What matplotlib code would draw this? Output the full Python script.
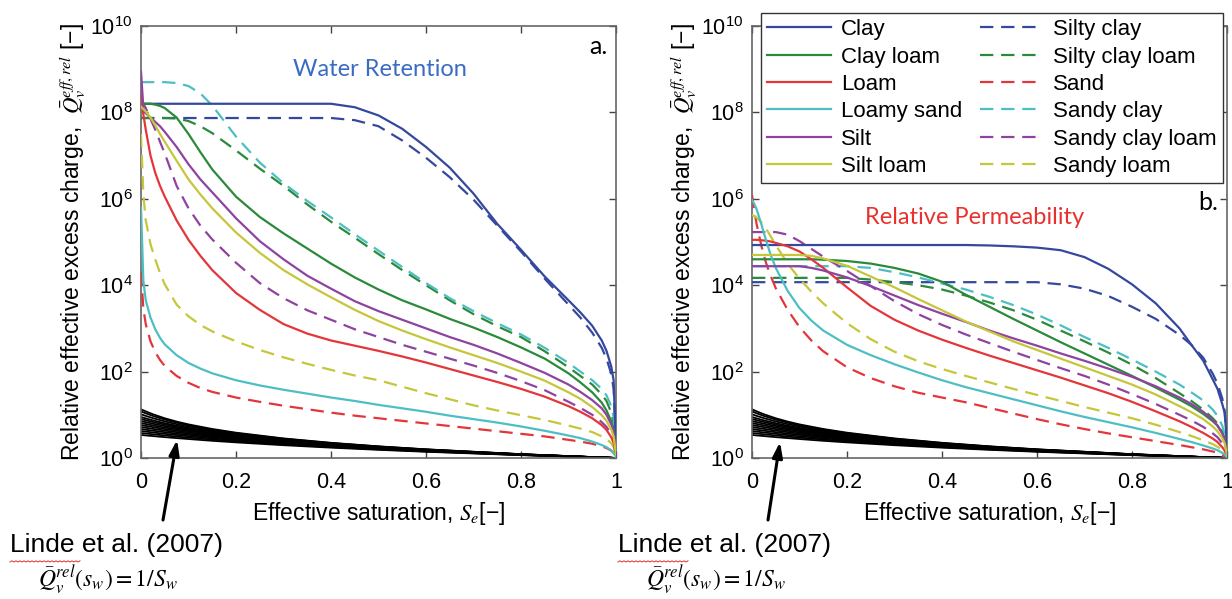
import numpy as np
import matplotlib
matplotlib.use("Agg")
import matplotlib.pyplot as plt
from matplotlib.lines import Line2D

plt.rcParams['font.family'] = ['Liberation Sans', 'DejaVu Sans']

# ---------------- data (log10 of Q) ----------------
se = [0, 0.005, 0.01, 0.02, 0.03, 0.04, 0.05, 0.075, 0.1, 0.125, 0.15, 0.2, 0.25,
      0.3, 0.35, 0.4, 0.45, 0.5, 0.55, 0.6, 0.65, 0.7, 0.75, 0.8, 0.85, 0.9,
      0.925, 0.95, 0.97, 0.98, 0.99, 0.995, 1.0]

solid_names = ["Clay", "Clay loam", "Loam", "Loamy sand", "Silt", "Silt loam"]
dashed_names = ["Silty clay", "Silty clay loam", "Sand", "Sandy clay",
                "Sandy clay loam", "Sandy loam"]

# Water retention (panel a), log10 values
wr_clay = [8.2, 8.2, 8.2, 8.2, 8.2, 8.2, 8.2, 8.2, 8.2, 8.2, 8.2, 8.2, 8.2, 8.2, 8.2, 8.2,
           8.12, 7.93, 7.62, 7.2, 6.72, 6.12, 5.42, 4.82, 4.2, 3.65, 3.37, 3.06, 2.72, 2.48, 2.12, 1.8, 0.2]
wr_clay_loam = [8.2, 8.2, 8.2, 8.2, 8.18, 8.15, 8.1, 7.88, 7.5, 7.08, 6.68, 6.05, 5.58, 5.2, 4.85, 4.5,
                4.18, 3.9, 3.65, 3.44, 3.22, 3.02, 2.8, 2.56, 2.3, 1.96, 1.75, 1.52, 1.28, 1.1, 0.85, 0.65, 0.15]
wr_loam = [8.4, 7.95, 7.6, 7.0, 6.6, 6.3, 6.05, 5.5, 5.05, 4.68, 4.35, 3.82, 3.43, 3.1, 2.88, 2.72,
           2.6, 2.48, 2.35, 2.21, 2.06, 1.91, 1.76, 1.6, 1.42, 1.2, 1.07, 0.92, 0.76, 0.65, 0.48, 0.35, 0.05]
wr_loamy_sand = [5.8, 4.1, 3.65, 3.25, 2.98, 2.78, 2.63, 2.38, 2.2, 2.07, 1.96, 1.8, 1.68, 1.58, 1.49, 1.4,
                 1.32, 1.23, 1.15, 1.07, 0.98, 0.9, 0.82, 0.73, 0.63, 0.52, 0.46, 0.38, 0.3, 0.25, 0.18, 0.12, 0.02]
wr_silt = [8.94, 8.1, 7.98, 7.88, 7.78, 7.68, 7.55, 7.2, 6.8, 6.45, 6.15, 5.55, 5.02, 4.6, 4.22, 3.92,
           3.63, 3.4, 3.2, 3.0, 2.8, 2.62, 2.42, 2.2, 1.97, 1.7, 1.53, 1.34, 1.15, 1.0, 0.78, 0.6, 0.1]
wr_silt_loam = [8.13, 8.08, 8.02, 7.88, 7.7, 7.5, 7.32, 6.88, 6.45, 6.1, 5.78, 5.22, 4.75, 4.35, 4.02, 3.72,
                3.43, 3.17, 2.95, 2.75, 2.56, 2.38, 2.2, 2.0, 1.79, 1.52, 1.37, 1.18, 0.99, 0.86, 0.66, 0.5, 0.08]
wr_silty_clay = [7.87, 7.87, 7.87, 7.87, 7.87, 7.87, 7.87, 7.87, 7.87, 7.87, 7.87, 7.87, 7.87, 7.87, 7.87, 7.87,
                 7.82, 7.68, 7.35, 6.95, 6.5, 5.98, 5.38, 4.78, 4.15, 3.55, 3.25, 2.9, 2.55, 2.3, 1.95, 1.6, 0.2]
wr_silty_clay_loam = [7.87, 7.87, 7.87, 7.87, 7.87, 7.87, 7.87, 7.86, 7.8, 7.68, 7.52, 7.12, 6.7, 6.3, 5.87, 5.47,
                      5.1, 4.72, 4.35, 4.0, 3.65, 3.33, 3.05, 2.8, 2.47, 2.1, 1.9, 1.7, 1.47, 1.32, 1.05, 0.8, 0.15]
wr_sand = [4.3, 3.45, 3.1, 2.7, 2.45, 2.27, 2.13, 1.9, 1.74, 1.62, 1.53, 1.4, 1.3, 1.21, 1.13, 1.05,
           0.98, 0.92, 0.86, 0.8, 0.74, 0.68, 0.62, 0.56, 0.5, 0.42, 0.38, 0.33, 0.27, 0.23, 0.17, 0.12, 0.02]
wr_sandy_clay = [8.7, 8.7, 8.7, 8.7, 8.7, 8.7, 8.7, 8.68, 8.61, 8.44, 8.16, 7.44, 6.84, 6.36, 5.95, 5.57,
                 5.18, 4.8, 4.42, 4.05, 3.7, 3.4, 3.12, 2.86, 2.55, 2.2, 2.0, 1.8, 1.6, 1.45, 1.2, 0.95, 0.15]
wr_sandy_clay_loam = [8.3, 8.2, 8.1, 7.85, 7.6, 7.32, 7.05, 6.3, 5.78, 5.38, 5.06, 4.52, 4.05, 3.7, 3.42, 3.2,
                      2.98, 2.8, 2.62, 2.46, 2.3, 2.14, 1.97, 1.78, 1.57, 1.3, 1.16, 1.0, 0.83, 0.72, 0.55, 0.42, 0.05]
wr_sandy_loam = [7.5, 6.1, 5.5, 4.95, 4.6, 4.28, 4.02, 3.55, 3.28, 3.08, 2.93, 2.7, 2.5, 2.33, 2.18, 2.04,
                 1.91, 1.8, 1.65, 1.5, 1.36, 1.22, 1.1, 0.99, 0.88, 0.75, 0.68, 0.6, 0.5, 0.44, 0.34, 0.25, 0.05]

# Relative permeability (panel b), log10 values
rp_clay = [4.93, 4.93, 4.93, 4.93, 4.93, 4.93, 4.93, 4.93, 4.93, 4.93, 4.93, 4.93, 4.93, 4.93, 4.93, 4.93,
           4.93, 4.92, 4.9, 4.87, 4.81, 4.65, 4.38, 4.02, 3.58, 3.0, 2.62, 2.25, 1.82, 1.6, 1.25, 1.05, 0.35]
rp_clay_loam = [4.6, 4.6, 4.6, 4.6, 4.6, 4.6, 4.6, 4.6, 4.6, 4.6, 4.59, 4.56, 4.5, 4.4, 4.27, 4.08,
                3.78, 3.5, 3.22, 2.95, 2.68, 2.42, 2.16, 1.9, 1.63, 1.35, 1.2, 1.02, 0.85, 0.75, 0.58, 0.45, 0.1]
rp_loam = [5.05, 5.05, 5.05, 5.04, 5.03, 5.01, 4.98, 4.9, 4.78, 4.6, 4.4, 3.95, 3.52, 3.2, 2.95, 2.74,
           2.55, 2.37, 2.2, 2.03, 1.86, 1.68, 1.5, 1.3, 1.08, 0.85, 0.72, 0.58, 0.45, 0.37, 0.25, 0.17, 0.04]
rp_loamy_sand = [5.97, 5.88, 5.75, 5.4, 5.02, 4.68, 4.4, 3.87, 3.47, 3.18, 2.95, 2.62, 2.38, 2.17, 1.98, 1.8,
                 1.64, 1.5, 1.36, 1.22, 1.08, 0.95, 0.83, 0.71, 0.58, 0.44, 0.37, 0.29, 0.22, 0.18, 0.12, 0.08, 0.02]
rp_silt = [4.44, 4.44, 4.44, 4.44, 4.44, 4.44, 4.44, 4.44, 4.44, 4.4, 4.34, 4.18, 3.98, 3.76, 3.54, 3.34,
           3.15, 2.95, 2.77, 2.6, 2.42, 2.25, 2.07, 1.88, 1.66, 1.4, 1.25, 1.07, 0.88, 0.75, 0.57, 0.42, 0.08]
rp_silt_loam = [4.7, 4.7, 4.7, 4.7, 4.7, 4.7, 4.7, 4.7, 4.7, 4.68, 4.62, 4.45, 4.2, 3.95, 3.68, 3.42,
                3.16, 2.93, 2.7, 2.5, 2.3, 2.1, 1.9, 1.7, 1.47, 1.2, 1.06, 0.9, 0.73, 0.62, 0.46, 0.34, 0.07]
rp_silty_clay = [4.07, 4.07, 4.07, 4.07, 4.07, 4.07, 4.07, 4.07, 4.07, 4.07, 4.07, 4.07, 4.07, 4.07, 4.07, 4.07,
                 4.07, 4.07, 4.07, 4.07, 4.02, 3.92, 3.75, 3.5, 3.22, 2.85, 2.62, 2.32, 1.95, 1.72, 1.38, 1.1, 0.35]
rp_silty_clay_loam = [4.17, 4.17, 4.17, 4.17, 4.17, 4.17, 4.17, 4.17, 4.17, 4.17, 4.17, 4.17, 4.13, 4.07, 4.0, 3.9,
                      3.76, 3.6, 3.42, 3.2, 2.95, 2.7, 2.44, 2.16, 1.85, 1.5, 1.32, 1.12, 0.92, 0.8, 0.6, 0.45, 0.1]
rp_sand = [6.09, 5.7, 5.4, 4.9, 4.5, 4.2, 3.93, 3.43, 3.03, 2.72, 2.47, 2.1, 1.85, 1.66, 1.51, 1.4,
           1.29, 1.16, 1.03, 0.9, 0.78, 0.67, 0.57, 0.48, 0.39, 0.3, 0.25, 0.2, 0.15, 0.12, 0.08, 0.05, 0.01]
rp_sandy_clay = [4.44, 4.44, 4.44, 4.44, 4.44, 4.44, 4.44, 4.44, 4.44, 4.44, 4.44, 4.44, 4.4, 4.3, 4.18, 4.04,
                 3.9, 3.73, 3.54, 3.32, 3.07, 2.8, 2.55, 2.28, 2.0, 1.7, 1.52, 1.33, 1.12, 0.98, 0.75, 0.55, 0.1]
rp_sandy_clay_loam = [5.23, 5.23, 5.23, 5.23, 5.23, 5.23, 5.23, 5.17, 5.02, 4.84, 4.66, 4.33, 3.98, 3.63, 3.33, 3.08,
                      2.86, 2.66, 2.46, 2.27, 2.08, 1.9, 1.7, 1.48, 1.25, 1.0, 0.87, 0.72, 0.57, 0.48, 0.34, 0.24, 0.05]
rp_sandy_loam = [5.63, 5.6, 5.56, 5.45, 5.3, 5.12, 4.93, 4.5, 4.15, 3.85, 3.58, 3.12, 2.75, 2.46, 2.24, 2.06,
                 1.9, 1.75, 1.6, 1.46, 1.32, 1.18, 1.05, 0.92, 0.77, 0.6, 0.51, 0.41, 0.32, 0.26, 0.18, 0.12, 0.03]

# Linde et al. (2007) curves, 1/Sw
linde_se = [0, 0.01, 0.025, 0.05, 0.075, 0.1, 0.15, 0.2, 0.3, 0.4, 0.5, 0.6, 0.8, 1.0]
linde_values = [
    [13.4, 12.01, 10.3, 8.31, 6.97, 6.00, 4.70, 3.86, 2.84, 2.25, 1.862, 1.590, 1.227, 1.0],
    [12.0, 10.81, 9.41, 7.74, 6.57, 5.71, 4.53, 3.75, 2.79, 2.22, 1.846, 1.579, 1.224, 1.0],
    [10.3, 9.42, 8.36, 7.03, 6.07, 5.34, 4.30, 3.60, 2.72, 2.18, 1.823, 1.565, 1.220, 1.0],
    [8.9, 8.25, 7.43, 6.38, 5.59, 4.97, 4.07, 3.45, 2.64, 2.14, 1.798, 1.550, 1.216, 1.0],
    [8.0, 7.48, 6.81, 5.93, 5.25, 4.71, 3.90, 3.33, 2.58, 2.105, 1.778, 1.538, 1.212, 1.0],
    [7.18, 6.76, 6.22, 5.49, 4.91, 4.44, 3.73, 3.21, 2.52, 2.07, 1.755, 1.525, 1.208, 1.0],
    [6.46, 6.12, 5.68, 5.07, 4.58, 4.18, 3.55, 3.09, 2.45, 2.03, 1.732, 1.511, 1.203, 1.0],
    [5.81, 5.54, 5.19, 4.68, 4.27, 3.92, 3.37, 2.96, 2.38, 1.987, 1.706, 1.495, 1.198, 1.0],
    [5.22, 5.01, 4.72, 4.31, 3.97, 3.67, 3.20, 2.83, 2.30, 1.942, 1.678, 1.478, 1.193, 1.0],
    [4.69, 4.52, 4.29, 3.96, 3.67, 3.43, 3.02, 2.70, 2.23, 1.894, 1.649, 1.459, 1.187, 1.0],
    [4.22, 4.09, 3.90, 3.63, 3.40, 3.19, 2.85, 2.57, 2.15, 1.844, 1.617, 1.439, 1.180, 1.0],
    [3.79, 3.69, 3.54, 3.33, 3.13, 2.96, 2.67, 2.43, 2.06, 1.791, 1.582, 1.417, 1.173, 1.0],
    [3.41, 3.33, 3.22, 3.04, 2.89, 2.75, 2.50, 2.30, 1.979, 1.736, 1.546, 1.394, 1.165, 1.0],
]

x_ticks = [0, 0.2, 0.4, 0.6, 0.8, 1]
x_tick_labels = ["0", "0.2", "0.4", "0.6", "0.8", "1"]
y_ticks = [1e0, 1e2, 1e4, 1e6, 1e8, 1e10]

colors = ["#35489e", "#2a8a3a", "#e4363a", "#4dbfc4", "#8f43a0", "#c6c63a"]

wr_solid = [wr_clay, wr_clay_loam, wr_loam, wr_loamy_sand, wr_silt, wr_silt_loam]
wr_dashed = [wr_silty_clay, wr_silty_clay_loam, wr_sand, wr_sandy_clay, wr_sandy_clay_loam, wr_sandy_loam]
rp_solid = [rp_clay, rp_clay_loam, rp_loam, rp_loamy_sand, rp_silt, rp_silt_loam]
rp_dashed = [rp_silty_clay, rp_silty_clay_loam, rp_sand, rp_sandy_clay, rp_sandy_clay_loam, rp_sandy_loam]

# ---------------- figure ----------------
W, H = 1232, 599
fig = plt.figure(figsize=(W / 100, H / 100), dpi=100)


def px_rect(x0, y0, x1, y1):
    return [x0 / W, 1 - y1 / H, (x1 - x0) / W, (y1 - y0) / H]


axa = fig.add_axes(px_rect(141, 26, 616, 458))
axb = fig.add_axes(px_rect(752, 26, 1227, 458))

DASH = (6, 3.5)
LW = 1.6

for ax, solid, dashed in [(axa, wr_solid, wr_dashed), (axb, rp_solid, rp_dashed)]:
    for vals in linde_values:
        ax.plot(linde_se, vals, color="black", lw=1.3, zorder=2)
    for c, vals in zip(colors, dashed):
        ax.plot(se, 10 ** np.array(vals), color=c, lw=LW, dashes=DASH, zorder=3)
    for c, vals in zip(colors, solid):
        ax.plot(se, 10 ** np.array(vals), color=c, lw=LW, zorder=3)

    ax.set_yscale("log")
    ax.set_xlim(0, 1)
    ax.set_ylim(1, 1e10)
    ax.set_yticks(y_ticks)
    ax.minorticks_off()
    ax.set_xticks(x_ticks)
    ax.set_xticklabels(x_tick_labels)
    ax.tick_params(axis="both", which="both", direction="in", top=True, right=True,
                   length=5, width=1, color="#444444")
    ax.tick_params(axis="x", labelsize=15.5, pad=10)
    ax.tick_params(axis="y", labelsize=15.5, pad=6)
    for sp in ax.spines.values():
        sp.set_color("#666666")
        sp.set_linewidth(1.2)
    ax.set_xlabel("Effective saturation, $S_e$[−]", fontsize=16.5, labelpad=5,
                  math_fontfamily="stix")
    ax.set_ylabel(r"Relative effective excess charge,  $\bar{Q}_v^{eff,rel}$ [−]",
                  fontsize=16.5, labelpad=2, math_fontfamily="stix")

# panel annotations
fig.text(380 / W, 1 - 69 / H, "Water Retention", color="#3a6cc4", fontsize=17,
         family="Lato", ha="center", va="center")
fig.text(975 / W, 1 - 217 / H, "Relative Permeability", color="#e8312f", fontsize=17,
         family="Lato", ha="center", va="center")
fig.text(608 / W, 1 - 47 / H, "a.", color="black", fontsize=18, family="Lato",
         ha="right", va="center")
fig.text(1218 / W, 1 - 202 / H, "b.", color="black", fontsize=18, family="Lato",
         ha="right", va="center")

# legend
handles = [Line2D([], [], color=c, lw=LW) for c in colors] + \
          [Line2D([], [], color=c, lw=LW, dashes=DASH) for c in colors]
labels = solid_names + dashed_names
leg = axb.legend(handles, labels, ncol=2, loc="upper right",
                 bbox_to_anchor=(1223 / W, 1 - 13 / H), bbox_transform=fig.transFigure,
                 fontsize=16, frameon=True, fancybox=False, framealpha=1,
                 edgecolor="#333333", handlelength=2.85, handletextpad=0.45,
                 labelspacing=0.285, columnspacing=0.8, borderpad=0.28, borderaxespad=0)
leg.get_frame().set_linewidth(1.0)

# Linde et al. annotations
for ax, tx, tip, tail in [(axa, 10, (0.076, 10 ** 0.42), (163, 520)),
                          (axb, 618, (0.059, 10 ** 0.37), (768, 520))]:
    ax.annotate("", xy=tip, xycoords="data", xytext=(tail[0], H - tail[1]),
                textcoords="figure pixels",
                arrowprops=dict(arrowstyle="-|>,head_length=0.9,head_width=0.3",
                                color="black", lw=2.2, shrinkA=0, shrinkB=0),
                annotation_clip=False)
    fig.text(tx / W, 1 - 545 / H, "Linde et al. (2007)", fontsize=19,
             ha="left", va="center", color="black")
    # spell-check squiggle under "Linde"
    sx = np.linspace(tx, tx + 70, 36)
    sy = H - 562 + 1.2 * (np.arange(36) % 2)
    fig.add_artist(Line2D(sx / W, sy / H, color="#e03030", lw=0.7))
    fig.text((tx + 28) / W, 1 - 580 / H, r"$\bar{Q}_v^{rel}(s_w)=1/S_w$", fontsize=17,
             ha="left", va="center", color="black", math_fontfamily="stix")

fig.savefig("out.png", dpi=100)
